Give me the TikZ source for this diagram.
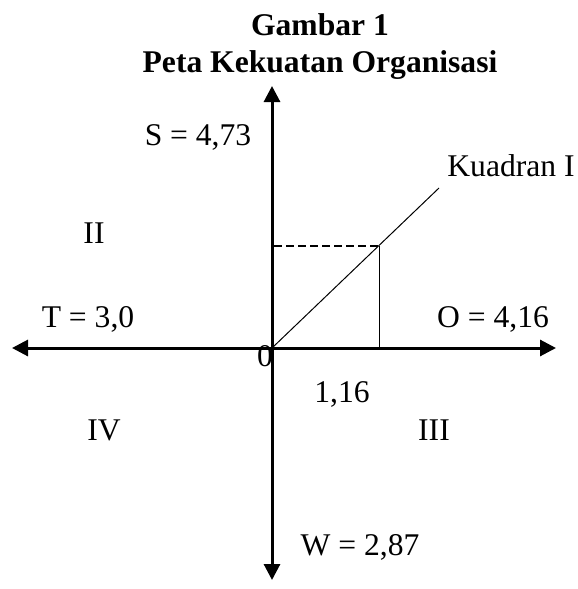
\documentclass[tikz,border=0pt]{standalone}
\usepackage{fontspec}
\setmainfont{Liberation Serif}
\usepackage{tikz}
\usetikzlibrary{arrows.meta}

\begin{document}
\begin{tikzpicture}[
  x=0.5pt, y=-0.5pt,
  every node/.style={font=\fontsize{15.8}{19}\selectfont, inner sep=0pt},
  title/.style={font=\fontsize{15.8}{19}\selectfont\bfseries, anchor=base},
  lbl/.style={anchor=base},
  axis/.style={line width=1.5pt, {Triangle[length=8pt,width=8pt]}-{Triangle[length=8pt,width=8pt]}},
  guide/.style={line width=0.5pt},
  level/.style={line width=0.7pt, dash pattern=on 4pt off 2pt}
]
  \useasboundingbox (0,0) rectangle (578,589);

  % title
  \node[title] (gambar) at (320,35) {Gambar 1};
  \node[title] (peta) at (320,72) {Peta Kekuatan Organisasi};

  % axes
  \coordinate (o) at (272,348);
  \coordinate (top) at (272,86);
  \coordinate (bottom) at (272,580);
  \coordinate (left) at (12,348);
  \coordinate (right) at (556,348);
  \draw[axis] (bottom) -- (top);
  \draw[axis] (left) -- (right);

  % position point
  \coordinate (p) at (379,246);
  \coordinate (pend) at (439,188);
  \coordinate (py) at (274,246);
  \coordinate (px) at (379,348);
  \draw[guide] (o) -- (pend);
  \draw[level] (py) -- (p);
  \draw[guide] (p) -- (px);

  % labels
  \node[lbl] (s) at (198,145) {S = 4,73};
  \node[lbl] (w) at (360,555) {W = 2,87};
  \node[lbl] (t) at (88,327) {T = 3,0};
  \node[lbl] (ov) at (493,327) {O = 4,16};
  \node[lbl] (zero) at (265,366) {0};
  \node[lbl] (x) at (342,402) {1,16};
  \node[lbl] (kuadran) at (511,176) {Kuadran I};
  \node[lbl] (q2) at (94,243) {II};
  \node[lbl] (q4) at (104,440) {IV};
  \node[lbl] (q3) at (434,440) {III};
\end{tikzpicture}
\end{document}
